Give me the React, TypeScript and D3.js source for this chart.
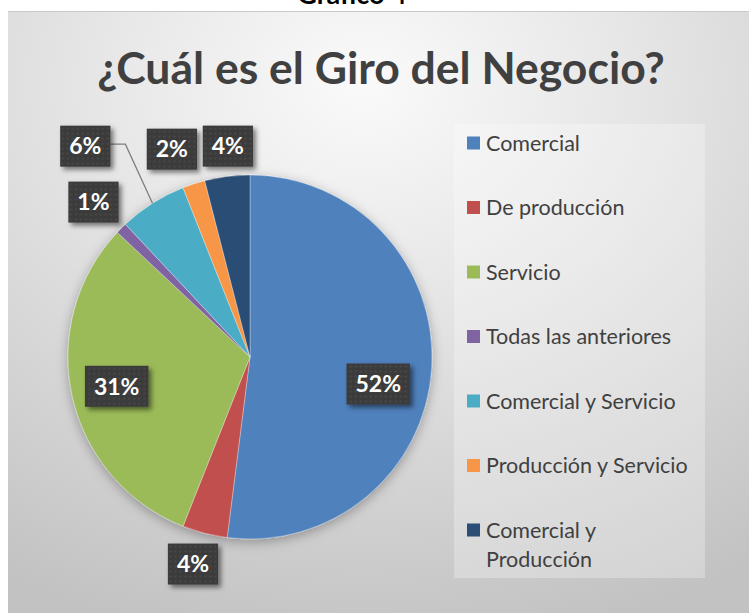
import React, { useEffect, useRef } from 'react'
import * as d3 from 'd3'

const CATEGORIES = [
  'Comercial',
  'De producción',
  'Servicio',
  'Todas las anteriores',
  'Comercial y Servicio',
  'Producción y Servicio',
  'Comercial y Producción',
]
const VALUES = [52, 4, 31, 1, 6, 2, 4]
const COLORS = ['#4F81BD', '#C0504D', '#9BBB59', '#8064A2', '#4BACC6', '#F79646', '#2C4D75']
const TITLE = '¿Cuál es el Giro del Negocio?'
const CAPTION = 'Gráfico 4'

// where each data label sits: distance as fraction of radius, angle nudge (deg)
const LABEL_PLACE = [
  { k: 0.72, nudge: 8.3, leader: false },
  { k: 1.18, nudge: 1, leader: false },
  { k: 0.75, nudge: 0.2, leader: false },
  { k: 1.21, nudge: -0.3, leader: false },
  { k: 1.47, nudge: -5.6, leader: true },
  { k: 1.22, nudge: -2.6, leader: false },
  { k: 1.165, nudge: 1.2, leader: false },
]

const W = 749
const H = 613

export default function App() {
  const svgRef = useRef<SVGSVGElement>(null)

  useEffect(() => {
    const svg = d3.select(svgRef.current)
    svg.selectAll('*').remove()

    const defs = svg.append('defs')
    const bg = defs.append('radialGradient').attr('id', 'bg')
      .attr('cx', '48%').attr('cy', '12%').attr('r', '95%')
    bg.append('stop').attr('offset', '0%').attr('stop-color', '#fafafa')
    bg.append('stop').attr('offset', '35%').attr('stop-color', '#e8e8e8')
    bg.append('stop').attr('offset', '100%').attr('stop-color', '#c2c2c2')

    const pat = defs.append('pattern').attr('id', 'dots')
      .attr('width', 5).attr('height', 5).attr('patternUnits', 'userSpaceOnUse')
    pat.append('rect').attr('width', 5).attr('height', 5).attr('fill', '#3a3a3a')
    pat.append('circle').attr('cx', 2.5).attr('cy', 2.5).attr('r', 1.2).attr('fill', '#474747')

    const boxShadow = defs.append('filter').attr('id', 'boxShadow')
      .attr('x', '-30%').attr('y', '-30%').attr('width', '160%').attr('height', '160%')
    boxShadow.append('feDropShadow').attr('dx', 3).attr('dy', 3).attr('stdDeviation', 2.5)
      .attr('flood-color', '#000').attr('flood-opacity', 0.5)

    const pieShadow = defs.append('filter').attr('id', 'pieShadow')
      .attr('x', '-20%').attr('y', '-20%').attr('width', '140%').attr('height', '140%')
    pieShadow.append('feDropShadow').attr('dx', 0).attr('dy', 3).attr('stdDeviation', 6)
      .attr('flood-color', '#000').attr('flood-opacity', 0.3)

    // page strip + caption cut off above the chart frame
    svg.append('rect').attr('width', W).attr('height', H).attr('fill', '#fff')
    svg.append('text')
      .attr('x', 352).attr('y', 4)
      .attr('text-anchor', 'middle')
      .attr('font-family', 'Lato, sans-serif')
      .attr('font-weight', 700)
      .attr('font-size', 27)
      .attr('fill', '#000')
      .text(CAPTION)

    // chart area
    svg.append('rect')
      .attr('x', 8).attr('y', 11).attr('width', W - 8).attr('height', H - 11)
      .attr('fill', 'url(#bg)')
    svg.append('line')
      .attr('x1', 8).attr('x2', W).attr('y1', 11.5).attr('y2', 11.5)
      .attr('stroke', '#c8c8c8')

    svg.append('text')
      .attr('x', 381).attr('y', 84)
      .attr('text-anchor', 'middle')
      .attr('font-family', 'Lato, sans-serif')
      .attr('font-weight', 700)
      .attr('font-size', 44.5)
      .attr('fill', '#404040')
      .text(TITLE)

    // pie
    const cx = 250, cy = 357, R = 182
    const data = CATEGORIES.map((c, i) => ({ cat: c, value: VALUES[i], color: COLORS[i], i }))
    const arcs = d3.pie<any>().sort(null).value(d => d.value)(data)
    const arc = d3.arc<any>().innerRadius(0).outerRadius(R)

    const g = svg.append('g').attr('transform', `translate(${cx},${cy})`)
    g.append('g').attr('filter', 'url(#pieShadow)')
      .selectAll('path')
      .data(arcs)
      .join('path')
      .attr('d', arc)
      .attr('fill', d => d.data.color)
      .attr('stroke', 'rgba(255,255,255,0.45)')
      .attr('stroke-width', 0.7)

    // data labels
    const pos = (angle: number, r: number) => [r * Math.sin(angle), -r * Math.cos(angle)]
    arcs.forEach((a, i) => {
      const place = LABEL_PLACE[i]
      const mid = (a.startAngle + a.endAngle) / 2
      const [lx, ly] = pos(mid + (place.nudge * Math.PI) / 180, R * place.k)
      const label = `${a.data.value}%`
      const lg = g.append('g').attr('transform', `translate(${lx},${ly})`)
      const rect = lg.append('rect').attr('fill', 'url(#dots)').attr('filter', 'url(#boxShadow)')
      const t = lg.append('text')
        .attr('text-anchor', 'middle')
        .attr('dy', '0.36em')
        .attr('font-family', 'Lato, sans-serif')
        .attr('font-weight', 700)
        .attr('font-size', 23)
        .attr('fill', '#fff')
        .text(label)
      const tw = (t.node() as SVGTextElement).getComputedTextLength()
      const bw = tw + 18, bh = 41
      rect.attr('x', -bw / 2).attr('y', -bh / 2).attr('width', bw).attr('height', bh)

      if (place.leader) {
        const [ex, ey] = pos(mid, R)
        const sx = lx + bw / 2
        g.insert('path', 'g:last-of-type')
          .attr('d', `M${sx},${ly - 2}H${sx + 15}L${ex},${ey}`)
          .attr('fill', 'none')
          .attr('stroke', '#7f7f7f')
          .attr('stroke-width', 1.3)
      }
    })

    // legend
    const legend = svg.append('g')
    legend.append('rect')
      .attr('x', 454).attr('y', 124).attr('width', 251).attr('height', 454)
      .attr('fill', 'rgba(255,255,255,0.28)')
    const rowY = d3.scalePoint<string>().domain(CATEGORIES).range([143, 530])
    data.forEach(d => {
      const y = rowY(d.cat) as number
      legend.append('rect')
        .attr('x', 467).attr('y', y - 6.5).attr('width', 13).attr('height', 13)
        .attr('fill', d.color)
      const words = d.cat.split(' ')
      const lines = d.cat.length > 21
        ? [words.slice(0, 2).join(' '), words.slice(2).join(' ')]
        : [d.cat]
      const t = legend.append('text')
        .attr('x', 486).attr('y', y)
        .attr('font-family', 'Lato, sans-serif')
        .attr('font-size', 21.5)
        .attr('fill', '#404040')
      lines.forEach((ln, j) => {
        t.append('tspan').attr('x', 486).attr('y', y + j * 29).attr('dy', '0.35em').text(ln)
      })
    })
  }, [])

  return (
    <svg
      ref={svgRef}
      width={W}
      height={H}
      style={{ position: 'fixed', left: 0, top: 0, display: 'block' }}
    />
  )
}
